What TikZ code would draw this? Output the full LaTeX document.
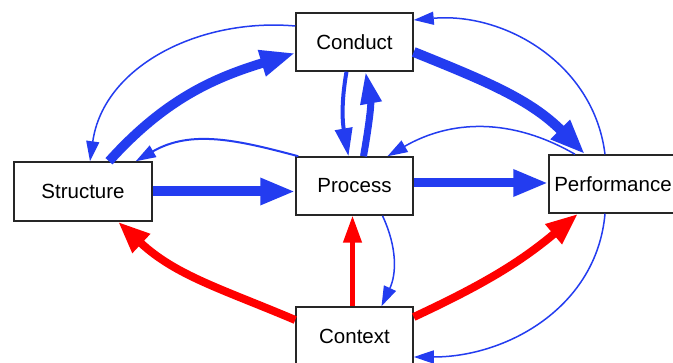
\documentclass[tikz,border=0pt]{standalone}
\usepackage{fontspec}
\setmainfont{Liberation Sans}
\usetikzlibrary{arrows.meta}
\definecolor{myblue}{RGB}{35,60,240}
\definecolor{myred}{RGB}{255,0,0}
\begin{document}
\begin{tikzpicture}[x=1pt,y=1pt,
 box/.style={draw=black!85, line width=1.5pt, fill=white, minimum width=117pt, minimum height=58pt, inner sep=0pt, font=\fontsize{20.5}{24}\selectfont},
 thinarr/.style={draw=myblue, line width=1.5pt, -{Triangle[length=20pt,width=13pt]}},
 thickarr/.style={draw=myblue, line width=10pt, -{Triangle[length=35pt,width=25pt]}},
 redarr/.style={draw=myred, line width=8pt, -{Triangle[length=32pt,width=24pt]}},
]
\useasboundingbox (0,0) rectangle (673,363);
\fill[white] (0,0) rectangle (673,363);
\clip (0,0) rectangle (673,363);

\node[box] (conduct) at (354.5,321) {Conduct};
\node[box, minimum width=138pt, minimum height=59pt] (structure) at (83,171.5) {Structure};
\node[box] (process) at (354.5,177) {Process};
\node[box, minimum width=128pt] (performance) at (613,179) {Performance};
\node[box] (context) at (354.5,27) {Context};

\draw[thinarr] ([yshift=16pt]conduct.west) to[out=175,in=82] ([xshift=7pt]structure.north);
\draw[thickarr, line width=9.5pt] ([xshift=26pt]structure.north) to[out=48,in=197] ([yshift=-11pt]conduct.west);
\draw[thinarr, line width=2pt] ([xshift=3pt]process.north west) to[out=165,in=30] ([xshift=-17pt]structure.north east);
\draw[thickarr] (structure.east) -- (structure.east -| process.west);
\draw[thinarr, line width=4pt, -{Triangle[length=28pt,width=17pt]}] ([xshift=-8pt]conduct.south) to[out=260,in=100] ([xshift=-6pt]process.north);
\draw[thickarr, line width=7pt, -{Triangle[length=32pt,width=20pt]}] ([xshift=9pt]process.north) to[out=80,in=280] ([xshift=11pt]conduct.south);

\draw[thickarr] ([yshift=-10pt]conduct.east) to[out=-22,in=135] ([xshift=-28pt]performance.north);
\draw[thinarr] ([xshift=-8pt]performance.north) to[out=97,in=5] ([yshift=22pt]conduct.east);
\draw[thinarr] ([xshift=-38pt]performance.north) to[out=150,in=30] ([xshift=33pt]process.north);
\draw[thickarr, line width=9pt] ([yshift=3pt]process.east) -- ([yshift=3pt]process.east -| performance.west);

\draw[thinarr] ([xshift=28pt]process.south) to[out=-65,in=65] ([xshift=27pt]context.north);
\draw[redarr, line width=4.5pt, -{Triangle[length=27pt,width=18pt]}] ([xshift=-2pt]context.north) -- ([xshift=-2pt]process.south);
\draw[redarr] ([yshift=16pt]context.west) to[out=157,in=-43] ([xshift=35pt]structure.south);
\draw[redarr] ([yshift=19pt]context.east) to[out=25,in=220] ([xshift=-35pt]performance.south);
\draw[thinarr] ([xshift=-8pt]performance.south) to[out=-95,in=0] ([yshift=-21pt]context.east);
\end{tikzpicture}
\end{document}
